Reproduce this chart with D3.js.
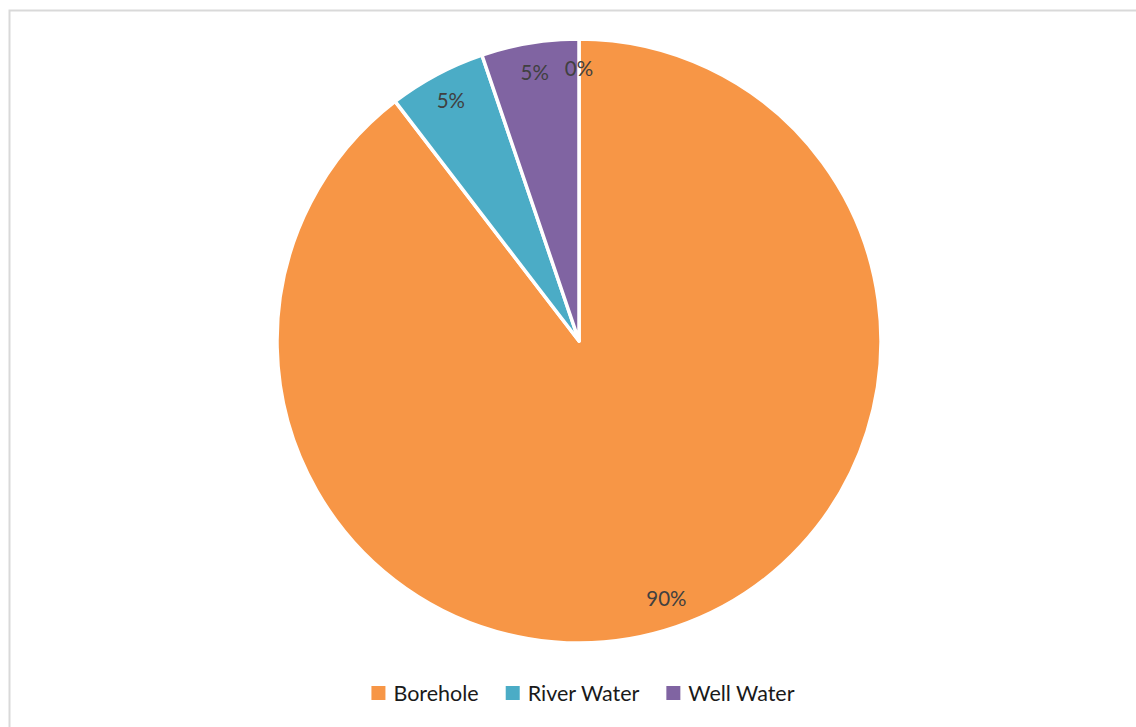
<!DOCTYPE html>
<html>
<head>
<meta charset="utf-8">
<script src="https://cdn.jsdelivr.net/npm/d3@7"></script>
<style>
  body { margin: 0; background: #fff; }
  svg { display: block; }
</style>
</head>
<body>
<svg width="1136" height="727"></svg>
<script>
// data (counts, shown as rounded percentages)
const categories = ["Borehole", "River Water", "Well Water", ""];
const values = [86, 5, 5, 0];
const colors = ["#F79646", "#4BACC6", "#8064A2", "#9BBB59"];

const svg = d3.select("svg"),
    width = +svg.attr("width"),
    height = +svg.attr("height");

const font = "Lato, 'Open Sans', sans-serif";

// chart frame (only top and left edges fall inside the picture)
svg.append("rect")
    .attr("x", 9.5).attr("y", 10.5)
    .attr("width", width + 20).attr("height", height + 20)
    .attr("fill", "none")
    .attr("stroke", "#d9d9d9")
    .attr("stroke-width", 2);

const cx = 579, cy = 341, r = 302;
const data = categories.map((c, i) => ({ name: c, value: values[i], color: colors[i] }));
const total = d3.sum(values);

const pie = d3.pie().sort(null).value(d => d.value);
const arcs = pie(data);
const arc = d3.arc().innerRadius(0).outerRadius(r);
const labelArc = d3.arc().innerRadius(r * 0.9).outerRadius(r * 0.9);

const g = svg.append("g").attr("transform", `translate(${cx},${cy})`);

g.selectAll("path")
    .data(arcs.filter(d => d.value > 0))
    .join("path")
    .attr("d", arc)
    .attr("fill", d => d.data.color)
    .attr("stroke", "#fff")
    .attr("stroke-width", 3.5)
    .attr("stroke-linejoin", "round");

g.selectAll("text.lbl")
    .data(arcs)
    .join("text")
    .attr("class", "lbl")
    .attr("transform", d => `translate(${labelArc.centroid(d)})`)
    .attr("text-anchor", "middle")
    .attr("dy", "0.35em")
    .attr("font-family", font)
    .attr("font-size", 20.5)
    .attr("fill", "#404040")
    .text(d => d3.format(".0%")(d.value / total));

// legend
const legendData = data.filter(d => d.name !== "");
const legend = svg.append("g");
const items = legend.selectAll("g")
    .data(legendData)
    .join("g");
items.append("rect")
    .attr("width", 14).attr("height", 14)
    .attr("y", -7)
    .attr("fill", d => d.color);
items.append("text")
    .attr("x", 22)
    .attr("dy", "0.35em")
    .attr("font-family", font)
    .attr("font-size", 21.5)
    .attr("fill", "#1a1a1a")
    .text(d => d.name);

let x = 0;
items.each(function () {
    const w = d3.select(this).select("text").node().getComputedTextLength();
    d3.select(this).attr("transform", `translate(${x},0)`);
    x += 22 + w + 27;
});
const legendWidth = x - 27;
legend.attr("transform", `translate(${583 - legendWidth / 2},693)`);
</script>
</body>
</html>
